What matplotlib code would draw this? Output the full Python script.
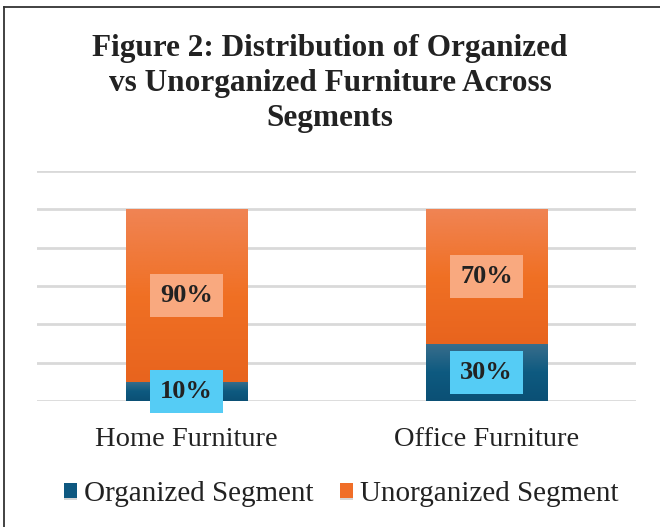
import matplotlib.pyplot as plt
import matplotlib.patheffects as pe
from matplotlib.lines import Line2D
from matplotlib.colors import LinearSegmentedColormap
import numpy as np

categories = ['Home Furniture', 'Office Furniture']
organized = [10, 30]
unorganized = [90, 70]
series_names = ['Organized Segment', 'Unorganized Segment']

plt.rcParams['font.family'] = ['Liberation Serif', 'DejaVu Serif']

blue = '#0E5880'
orange = '#F06E28'
blue_grad = LinearSegmentedColormap.from_list('b', ['#0B5075', '#0E5A80', '#3A6E8C'])
orange_grad = LinearSegmentedColormap.from_list('o', ['#E8641E', '#F07024', '#F08454'])

fig = plt.figure(figsize=(6.6, 5.27), dpi=100)
ax = fig.add_axes([0.056, 0.239, 0.908, 0.4365])

x = np.arange(len(categories))
shadow = [pe.SimplePatchShadow(offset=(0, -1.5), shadow_rgbFace='#9a9a9a', alpha=0.4), pe.Normal()]
b1 = ax.bar(x, organized, width=0.405, color=blue, label=series_names[0], zorder=3,
            path_effects=shadow)
b2 = ax.bar(x, unorganized, width=0.405, bottom=organized, color=orange,
            label=series_names[1], zorder=3, path_effects=shadow)

# vertical gradient fill clipped to each bar
grad = np.linspace(0, 1, 256).reshape(-1, 1)
for bars, cmap in [(b1, blue_grad), (b2, orange_grad)]:
    for bar in bars:
        x0, y0 = bar.get_x(), bar.get_y()
        w, h = bar.get_width(), bar.get_height()
        im = ax.imshow(grad, extent=[x0, x0 + w, y0, y0 + h], origin='lower',
                       aspect='auto', cmap=cmap, zorder=3.5)
        im.set_clip_path(bar)

# value labels in the middle of each segment
for i in range(len(categories)):
    ax.text(x[i], organized[i] / 2, f'{organized[i]}%', ha='center', va='center',
            fontsize=19, fontweight='bold', color='#222222', zorder=5,
            bbox=dict(boxstyle='square,pad=0.38', fc='#55CCF5', ec='none'))
    ax.text(x[i], organized[i] + unorganized[i] / 2, f'{unorganized[i]}%', ha='center',
            va='center', fontsize=19, fontweight='bold', color='#222222', zorder=5,
            bbox=dict(boxstyle='square,pad=0.38', fc='#F9A97F', ec='none'))

ax.set_ylim(0, 120)
ax.set_xlim(-0.5, 1.5)
ax.set_yticks(np.arange(0, 121, 20))
ax.yaxis.grid(True, color='#D9D9D9', lw=2)
ax.set_axisbelow(True)
ax.tick_params(axis='y', left=False, labelleft=False)
ax.tick_params(axis='x', length=0, pad=19, labelsize=20.5, labelcolor='#222222')
ax.set_xticks(x)
ax.set_xticklabels(categories)
for s in ax.spines.values():
    s.set_visible(False)

fig.text(0.5, 0.842, 'Figure 2: Distribution of Organized\nvs Unorganized Furniture Across\nSegments',
         ha='center', va='center', fontsize=22.5, fontweight='bold', color='#222222',
         linespacing=1.28)

fig.legend(loc='center', bbox_to_anchor=(0.517, 0.063), ncol=2, frameon=False,
           fontsize=21, handlelength=0.45, handleheight=0.45, handletextpad=0.25,
           columnspacing=0.9, labelcolor='#222222')

# page border (left and top)
fig.add_artist(Line2D([4 / 660, 4 / 660], [0, 1 - 7 / 527], color='#333333', lw=1.3))
fig.add_artist(Line2D([4 / 660, 1], [1 - 7 / 527, 1 - 7 / 527], color='#333333', lw=1.3))

plt.savefig('out.png')
